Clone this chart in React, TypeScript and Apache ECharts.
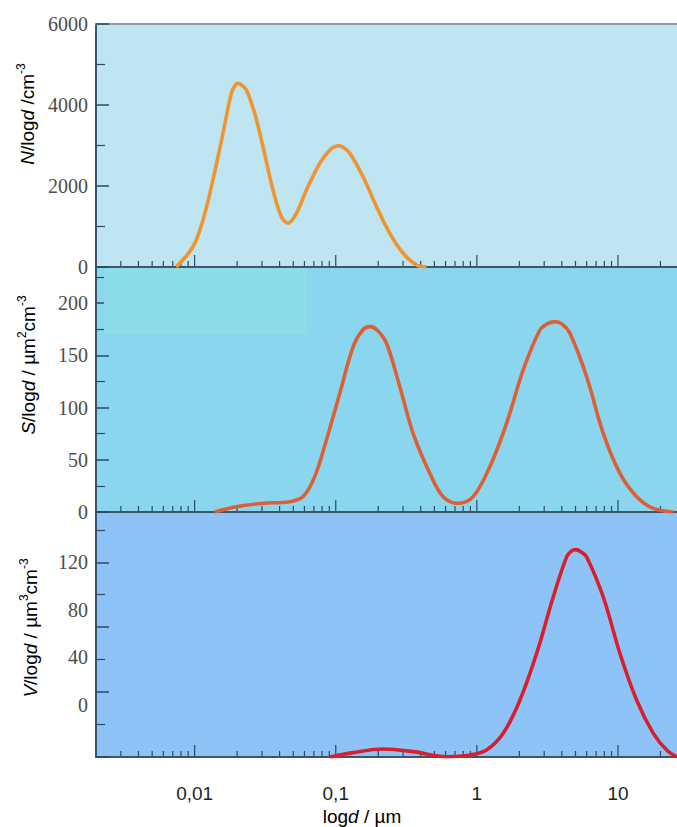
import React, { useEffect, useRef } from 'react';
import * as echarts from 'echarts';

// ---------- data ----------
const X_MIN = 0.002;
const X_MAX = 26.2;
const X_TICK_VALUES = [0.01, 0.1, 1, 10];
const X_TICK_LABELS = ['0,01', '0,1', '1', '10'];
const DECADES = [0.001, 0.01, 0.1, 1, 10];
const MINOR_STEPS = [2, 3, 4, 5, 6, 7, 8, 9];

// N/logd (cm^-3)
const N_D = [0.00741, 0.00973, 0.01146, 0.01348, 0.01588, 0.01821, 0.01935, 0.02028, 0.02140, 0.02327, 0.02664, 0.03051, 0.03592, 0.04119, 0.04589, 0.05264, 0.06197, 0.077, 0.09066, 0.0985, 0.105, 0.1135, 0.1257, 0.1562, 0.1944, 0.2415, 0.3001, 0.3735, 0.4398];
const N_VAL = [0, 500, 1160, 2150, 3300, 4290, 4480, 4535, 4500, 4370, 3795, 2970, 1900, 1240, 1080, 1325, 1900, 2560, 2890, 2970, 2990, 2950, 2810, 2230, 1490, 830, 340, 50, 0];

// S/logd (um^2 cm^-3)
const S_D = [0.01386, 0.01975, 0.03051, 0.04719, 0.05862, 0.07098, 0.0859, 0.1068, 0.1327, 0.155, 0.1743, 0.197, 0.2289, 0.2844, 0.3534, 0.4642, 0.5768, 0.7372, 0.9414, 1.236, 1.624, 2.13, 2.798, 3.2, 3.574, 4.0, 4.566, 5.998, 7.866, 10.33, 13.57, 17.8, 24.68];
const S_VAL = [0, 5, 8.3, 9.9, 14.7, 33.8, 69, 113.6, 158, 174, 177.4, 174, 161.5, 120, 75.3, 37, 14.7, 8.3, 14.7, 43.4, 84.9, 136, 174.2, 180.5, 182.2, 180, 171, 129.5, 75.3, 37, 14.7, 3.5, 0];

// V/logd (um^3 cm^-3)
const V_D = [0.0907, 0.1327, 0.2165, 0.3534, 0.6097, 0.892, 1.172, 1.537, 2.018, 2.651, 3.477, 4.328, 4.7, 5.036, 5.45, 5.998, 7.866, 10.33, 13.57, 17.8, 22.15, 26.2];
const V_VAL = [0, 2.7, 4.9, 3.3, 0.2, 1.2, 4.3, 14.6, 35, 63.8, 98.6, 123.3, 127, 127.8, 126.5, 123.3, 98.6, 63.8, 35, 14.6, 4.3, 0];

// axes
const N_AXIS = { min: 0, max: 6000, interval: 2000 };
const S_AXIS = { min: 0, max: 234.5, interval: 50 };
const V_AXIS = { min: 0, max: 151, interval: 40 };
const V_LABELS = [0, 40, 80, 120]; // printed tick labels of the lower panel

// ---------- styles ----------
const AXIS_COLOR = '#3e566a';
const TICK_COLOR = '#2e4a66';
const LABEL_COLOR = '#4d4d4d';
const TITLE_COLOR = '#262626';
const SANS = 'Liberation Sans, Arial, sans-serif';
const SERIF = 'Liberation Serif, Times New Roman, serif';

const xTicks: [number, number][] = [];
DECADES.forEach((d) => {
  if (d >= X_MIN && d <= X_MAX) xTicks.push([d, 1]);
  MINOR_STEPS.forEach((m) => {
    const v = d * m;
    if (v > X_MIN * 1.01 && v < X_MAX) xTicks.push([v, 0]);
  });
});

const xLabelFormatter = (v: number) => {
  for (let i = 0; i < X_TICK_VALUES.length; i++) {
    if (Math.abs(Math.log10(v) - Math.log10(X_TICK_VALUES[i])) < 1e-6) return X_TICK_LABELS[i];
  }
  return '';
};

const richStyles = {
  n: { fontSize: 19, fontFamily: SANS, color: TITLE_COLOR, lineHeight: 24 },
  i: { fontSize: 19, fontFamily: SANS, fontStyle: 'italic', color: TITLE_COLOR, lineHeight: 24 },
  sup: { fontSize: 12, fontFamily: SANS, color: TITLE_COLOR, verticalAlign: 'top', lineHeight: 12 },
};

const App: React.FC = () => {
  const ref = useRef<HTMLDivElement>(null);

  useEffect(() => {
    if (!ref.current) return;
    const chart = echarts.init(ref.current, undefined, { renderer: 'svg' });

    const grids = [
      { left: 96, right: 0, top: 24, height: 243, show: true, backgroundColor: '#bee5f1', borderWidth: 0 },
      { left: 96, right: 0, top: 267, height: 245, show: true, backgroundColor: '#8bd6ef', borderWidth: 0 },
      { left: 96, right: 0, top: 512, height: 245, show: true, backgroundColor: '#8dc3f6', borderWidth: 0 },
      { left: 96, right: 0, top: 562, height: 143, show: false },
    ];

    const logX = (gridIndex: number, showLabel: boolean) => ({
      type: 'log',
      logBase: 10,
      gridIndex,
      min: X_MIN,
      max: X_MAX,
      axisLine: { show: true, onZero: false, lineStyle: { color: AXIS_COLOR, width: 2 } },
      axisTick: { show: false },
      splitLine: { show: false },
      minorTick: { show: false },
      axisLabel: {
        show: showLabel,
        margin: 27,
        fontSize: 19,
        fontFamily: SANS,
        color: '#222',
        formatter: xLabelFormatter,
        showMinLabel: false,
        showMaxLabel: false,
      },
    });

    const valY = (gridIndex: number, ax: { min: number; max: number; interval: number }, showLabel: boolean) => ({
      type: 'value',
      gridIndex,
      min: ax.min,
      max: ax.max,
      interval: ax.interval,
      axisLine: { show: true, lineStyle: { color: AXIS_COLOR, width: 2 } },
      axisTick: { show: true, inside: true, length: 13, lineStyle: { color: TICK_COLOR, width: 1.5 } },
      minorTick: { show: true, splitNumber: 2, length: 9, lineStyle: { color: TICK_COLOR, width: 1.2 } },
      splitLine: { show: false },
      minorSplitLine: { show: false },
      axisLabel: {
        show: showLabel,
        margin: 8,
        fontSize: 20,
        fontFamily: SERIF,
        color: LABEL_COLOR,
        formatter: (v: number) => (Math.abs(v / ax.interval - Math.round(v / ax.interval)) < 1e-6 ? String(v) : ''),
      },
    });

    const tickSeries = (idx: number, yMin: number) => ({
      type: 'custom',
      xAxisIndex: idx,
      yAxisIndex: idx,
      silent: true,
      z: 3,
      data: xTicks,
      renderItem: (_p: any, api: any) => {
        const pt = api.coord([api.value(0), yMin]);
        const len = api.value(1) ? 12 : 6;
        return {
          type: 'line',
          shape: { x1: pt[0], y1: pt[1] - 1, x2: pt[0], y2: pt[1] - len },
          style: { stroke: TICK_COLOR, lineWidth: 1.2 },
        };
      },
    });

    const curve = (idx: number, xs: number[], ys: number[], color: string) => ({
      type: 'line',
      xAxisIndex: idx,
      yAxisIndex: idx,
      data: xs.map((x, i) => [x, ys[i]]),
      smooth: 0.35,
      showSymbol: false,
      z: 4,
      lineStyle: { color, width: 3.6 },
    });

    const option: any = {
      animation: false,
      backgroundColor: '#ffffff',
      grid: grids,
      xAxis: [
        logX(0, false),
        logX(1, false),
        logX(2, true),
        { type: 'value', gridIndex: 3, show: false },
        {
          type: 'log',
          logBase: 10,
          gridIndex: 0,
          position: 'top',
          min: X_MIN,
          max: X_MAX,
          axisLine: { show: true, onZero: false, lineStyle: { color: '#8a9ea8', width: 2 } },
          axisTick: { show: false },
          axisLabel: { show: false },
          splitLine: { show: false },
        },
      ],
      yAxis: [
        valY(0, N_AXIS, true),
        valY(1, S_AXIS, true),
        valY(2, V_AXIS, false),
        {
          type: 'value',
          gridIndex: 3,
          min: V_LABELS[0],
          max: V_LABELS[V_LABELS.length - 1],
          interval: V_LABELS[1] - V_LABELS[0],
          axisLine: { show: false },
          axisTick: { show: false },
          splitLine: { show: false },
          axisLabel: { margin: 8, fontSize: 20, fontFamily: SERIF, color: LABEL_COLOR },
        },
      ],
      series: [
        tickSeries(0, N_AXIS.min),
        tickSeries(1, S_AXIS.min),
        tickSeries(2, V_AXIS.min),
        curve(0, N_D, N_VAL, '#ee9430'),
        curve(1, S_D, S_VAL, '#dc5f36'),
        curve(2, V_D, V_VAL, '#d81f2e'),
      ],
      graphic: [
        {
          type: 'rect',
          z: 1,
          silent: true,
          shape: { x: 104, y: 268, width: 203, height: 66 },
          style: { fill: '#8cdde8' },
        },
        {
          type: 'text',
          x: 27,
          y: 114,
          rotation: Math.PI / 2,
          style: {
            text: '{i|N}{n|/log}{i|d}{n| /cm}{sup|-3}',
            rich: richStyles,
            align: 'center',
            verticalAlign: 'middle',
          },
        },
        {
          type: 'text',
          x: 28,
          y: 365,
          rotation: Math.PI / 2,
          style: {
            text: '{i|S}{n|/log}{i|d}{n| / µm}{sup|2}{n|cm}{sup|-3}',
            rich: richStyles,
            align: 'center',
            verticalAlign: 'middle',
          },
        },
        {
          type: 'text',
          x: 30,
          y: 628,
          rotation: Math.PI / 2,
          style: {
            text: '{i|V}{n|/log}{i|d}{n| / µm}{sup|3}{n|cm}{sup|-3}',
            rich: richStyles,
            align: 'center',
            verticalAlign: 'middle',
          },
        },
        {
          type: 'text',
          x: 362,
          y: 816,
          style: {
            text: '{n|log}{i|d}{n| / µm}',
            rich: richStyles,
            align: 'center',
            verticalAlign: 'middle',
          },
        },
      ],
    };

    chart.setOption(option);
    return () => chart.dispose();
  }, []);

  return (
    <div
      ref={ref}
      style={{ position: 'absolute', left: 0, top: 0, width: 677, height: 827 }}
    />
  );
};

export default App;
